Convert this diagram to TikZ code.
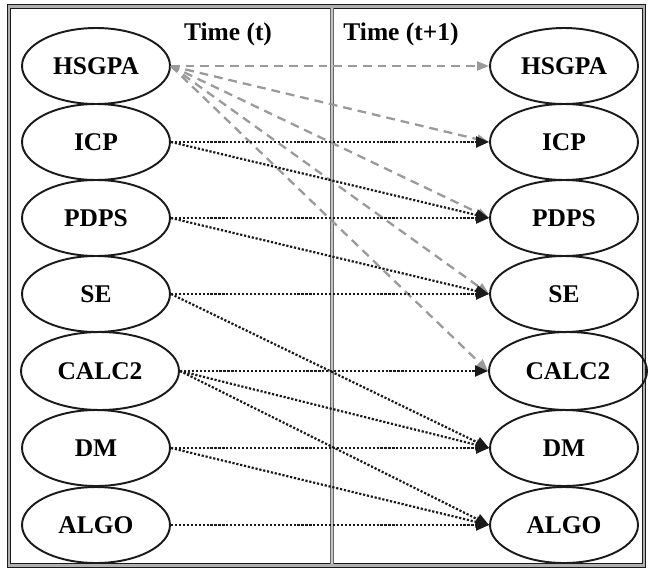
\documentclass[tikz,border=0pt]{standalone}
\usepackage{fontspec}
\setmainfont{Liberation Serif}
\usetikzlibrary{shapes.geometric, arrows.meta}
\definecolor{lineBlack}{HTML}{1A1A1A}
\definecolor{dashGray}{HTML}{9A9A9A}
\definecolor{frameGray}{HTML}{B0B0B0}
\tikzset{
    var/.style={ellipse, draw=lineBlack, line width=1.1pt, inner sep=0pt, minimum width=2.96cm, minimum height=1.52cm, font=\fontsize{14.5}{16}\selectfont\bfseries},
    widevar/.style={var, minimum width=3.16cm, minimum height=1.56cm},
    lag/.style={lineBlack, densely dotted, line width=1.25pt, -{Triangle[length=0.26cm, width=0.22cm]}},
    hsgpaLink/.style={dashGray, line width=1.3pt, dash pattern=on 5pt off 3.4pt, -{Triangle[length=0.24cm, width=0.18cm]}},
    timeLabel/.style={font=\fontsize{14.5}{16}\selectfont\bfseries}
}

\begin{document}
\begin{tikzpicture}[x=0.02cm, y=-0.02cm]
        \useasboundingbox (0,0) rectangle (648,571);

        % Frame and divider
        \draw[lineBlack, line width=0.6pt, double=frameGray, double distance=1.6pt] (9,6.5) rectangle (644,565.5);
        \draw[gray!80!black, line width=0.6pt, double=gray!45, double distance=1.2pt] (332,8) -- (332,564);

        % Column headings
        \node[timeLabel] (tT) at (228,34) {Time (t)};
        \node[timeLabel] (tT1) at (401,34) {Time (t+1)};

        % Time (t)
        \node[var] (hsgpaA) at (96,66) {HSGPA};
        \node[var] (icpA) at (96,142) {ICP};
        \node[var] (pdpsA) at (96,218) {PDPS};
        \node[var] (seA) at (96,294) {SE};
        \node[widevar] (calcA) at (100,371) {CALC2};
        \node[var] (dmA) at (96,448) {DM};
        \node[var] (algoA) at (96,525) {ALGO};

        % Time (t+1)
        \node[var] (hsgpaB) at (564,66) {HSGPA};
        \node[var] (icpB) at (564,142) {ICP};
        \node[var] (pdpsB) at (564,218) {PDPS};
        \node[var] (seB) at (564,294) {SE};
        \node[widevar] (calcB) at (568,371) {CALC2};
        \node[var] (dmB) at (564,448) {DM};
        \node[var] (algoB) at (564,525) {ALGO};

        % HSGPA paths
        \draw[hsgpaLink] (hsgpaA.east) -- (hsgpaB.west);
        \draw[hsgpaLink] (hsgpaA.east) -- (icpB.west);
        \draw[hsgpaLink] (hsgpaA.east) -- (pdpsB.west);
        \draw[hsgpaLink] (hsgpaA.east) -- (seB.west);
        \draw[hsgpaLink] (hsgpaA.east) -- (calcB.west);

        % Other paths
        \draw[lag] (icpA.east) -- (icpB.west);
        \draw[lag] (icpA.east) -- (pdpsB.west);
        \draw[lag] (pdpsA.east) -- (pdpsB.west);
        \draw[lag] (pdpsA.east) -- (seB.west);
        \draw[lag] (seA.east) -- (seB.west);
        \draw[lag] (seA.east) -- (dmB.west);
        \draw[lag] (calcA.east) -- (calcB.west);
        \draw[lag] (calcA.east) -- (dmB.west);
        \draw[lag] (calcA.east) -- (algoB.west);
        \draw[lag] (dmA.east) -- (dmB.west);
        \draw[lag] (dmA.east) -- (algoB.west);
        \draw[lag] (algoA.east) -- (algoB.west);
    \end{tikzpicture}
\end{document}
